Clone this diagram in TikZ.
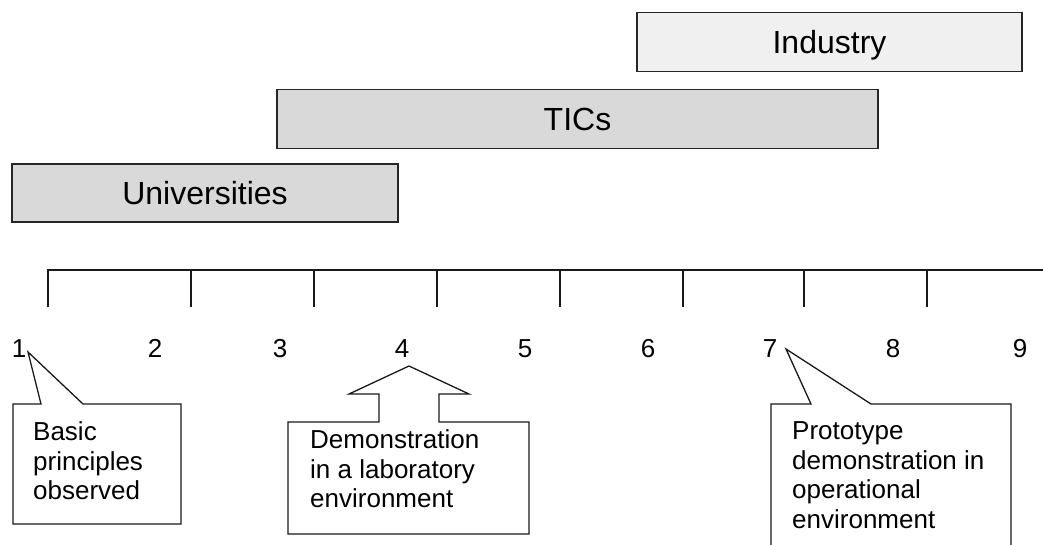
\documentclass[tikz,border=0pt]{standalone}
\usepackage{fontspec}
\setmainfont{Liberation Sans}
\begin{document}
\begin{tikzpicture}[x=1pt,y=-1pt,
  bar/.style={draw=black!85,line width=1.3pt,inner sep=0pt,text height=22.5pt,text depth=0pt,font=\fontsize{32}{36}\selectfont},
  lvl/.style={anchor=base,inner sep=0pt,font=\fontsize{26}{30}\selectfont},
  callout/.style={draw=black!90,line width=1.3pt,fill=white,line join=miter},
  ctext/.style={anchor=north west,inner sep=0pt,align=left,font=\fontsize{26}{29.5}\selectfont},
  scaleline/.style={line width=1.6pt,black!90}]
\useasboundingbox (0,0) rectangle (1043,544);
\clip (0,0) rectangle (1043,544);
\fill[white] (0,0) rectangle (1043,544);

% organisation bars
\node[bar,fill=black!6,minimum width=385pt,minimum height=59pt] (industry) at (829.5,42) {Industry};
\node[bar,fill=black!15,minimum width=601pt,minimum height=59pt] (tics) at (577.5,119) {TICs};
\node[bar,fill=black!15,minimum width=386pt,minimum height=58pt] (univ) at (205,193) {Universities};

% scale
\coordinate (s0) at (48,270);
\coordinate (send) at (1043,270);
\draw[scaleline] (48,307) -- (s0) -- (send);
\foreach \x in {191,314,437,560,683,804,927}
  \draw[scaleline] (\x,270) -- (\x,307);

% level numbers
\node[lvl] (n1) at (19,357) {1};
\node[lvl] (n2) at (155,357) {2};
\node[lvl] (n3) at (280,357) {3};
\node[lvl] (n4) at (402,357) {4};
\node[lvl] (n5) at (525,357) {5};
\node[lvl] (n6) at (648,357) {6};
\node[lvl] (n7) at (770,357) {7};
\node[lvl] (n8) at (893,357) {8};
\node[lvl] (n9) at (1020,357) {9};

% callout for level 1
\draw[callout] (13,404) -- (41,404) -- (28,352) -- (83,404) -- (181,404) -- (181,524) -- (13,524) -- cycle;
\node[ctext] (c1) at (33,421.5) {Basic\\principles\\observed};

% callout for level 4
\draw[callout] (288,422) -- (379,422) -- (379,394) -- (349,394) -- (409,366) -- (469,394) -- (439,394) -- (439,422) -- (529,422) -- (529,534) -- (288,534) -- cycle;
\node[ctext] (c4) at (310,429.5) {Demonstration\\in a laboratory\\environment};

% callout for level 7
\draw[callout] (771,404) -- (811,404) -- (786,349) -- (871,404) -- (1011,404) -- (1011,570) -- (771,570) -- cycle;
\node[ctext] (c7) at (792,421.5) {Prototype\\demonstration in\\operational\\environment};
\end{tikzpicture}
\end{document}
